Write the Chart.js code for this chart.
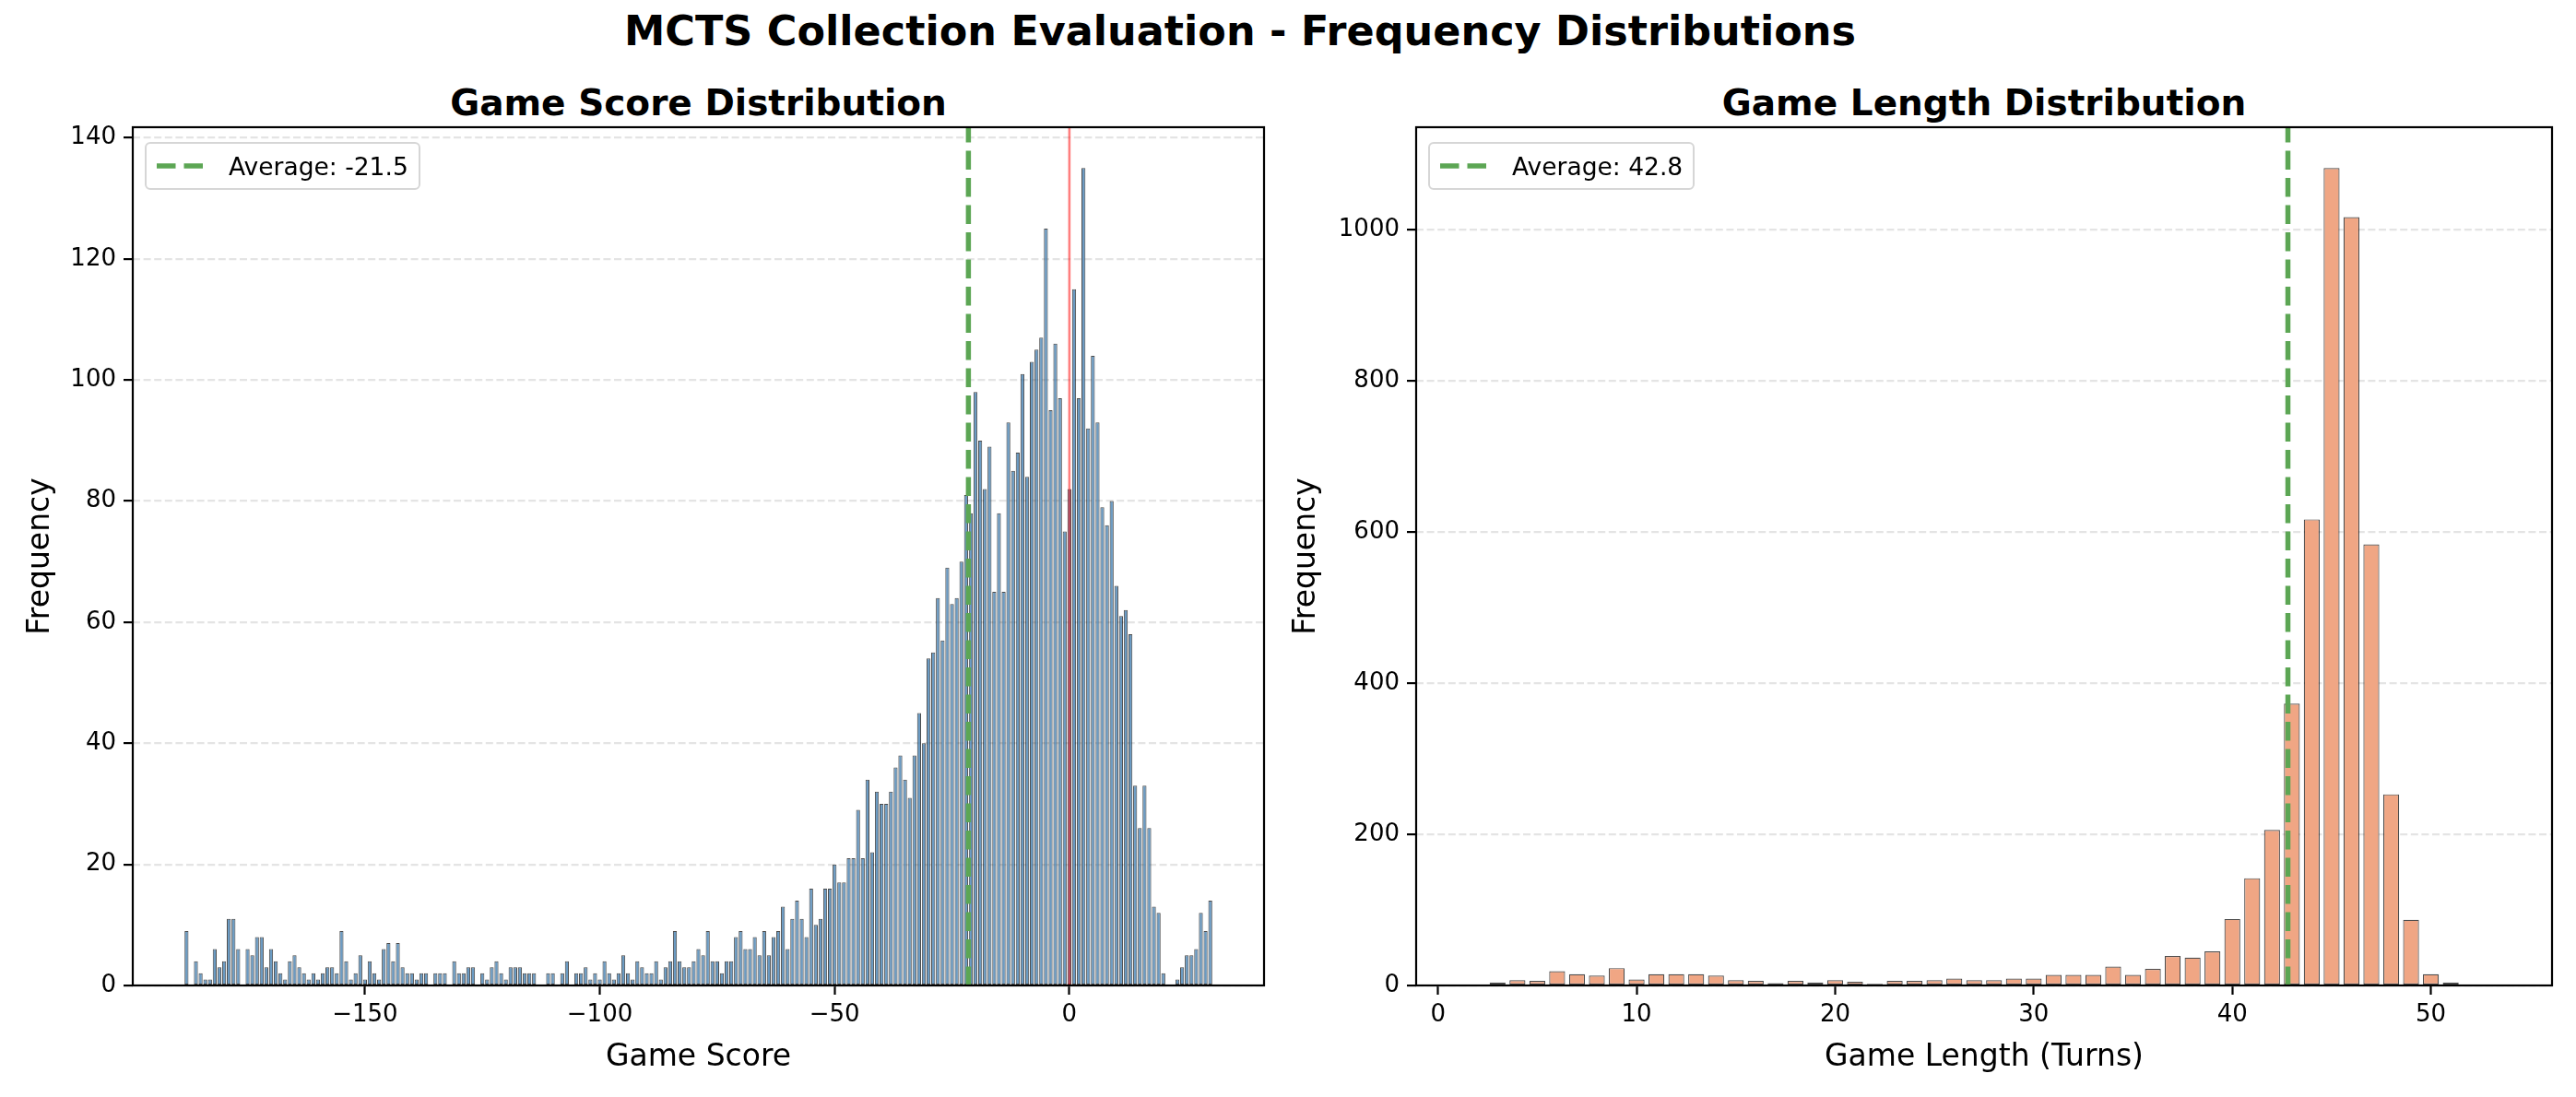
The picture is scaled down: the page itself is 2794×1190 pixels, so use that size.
<!DOCTYPE html>
<html>
<head>
<meta charset="utf-8">
<title>MCTS Collection Evaluation - Frequency Distributions</title>
<script src="https://cdn.jsdelivr.net/npm/chart.js@4.4.1/dist/chart.umd.min.js"></script>
<style>
  html, body { margin: 0; padding: 0; background: #fff; }
  body { width: 2794px; height: 1190px; position: relative; overflow: hidden; font-family: 'DejaVu Sans', sans-serif; }
  canvas { position: absolute; top: 0; }
  .ttl { position: absolute; text-align: center; font-weight: bold; color: #000; white-space: nowrap; }
  .lg { position: absolute; box-sizing: border-box; height: 52px; padding: 0 11px; display: flex; align-items: center;
        background: rgba(255,255,255,0.8); border: 2px solid #d6d6d6; border-radius: 6px; font-size: 26.5px; color: #000; white-space: nowrap; }
  .lg svg { margin-right: 22px; flex: none; }
</style>
</head>
<body>
<div class="ttl" style="left:0;width:2690px;top:9px;font-size:44.5px;line-height:50px">MCTS Collection Evaluation - Frequency Distributions</div>
<div class="ttl" style="left:144px;width:1227px;top:87px;font-size:39px;line-height:50px">Game Score Distribution</div>
<div class="ttl" style="left:1536px;width:1232px;top:87px;font-size:39px;line-height:50px">Game Length Distribution</div>
<canvas id="score_chart" width="1400" height="1190" style="left:0"></canvas>
<canvas id="length_chart" width="1414" height="1190" style="left:1380px"></canvas>
<script>
// ── Game score histogram (1-point bins, first bin centred on -188) ──
const scoreBinStart = -188;
const scoreCounts = [
    9, 0, 4, 2, 1, 1, 6, 3, 4, 11,
    11, 6, 0, 6, 5, 8, 8, 3, 6, 4,
    2, 1, 4, 5, 3, 2, 1, 2, 1, 2,
    3, 3, 2, 9, 4, 1, 2, 5, 1, 4,
    2, 1, 6, 7, 4, 7, 3, 2, 2, 1,
    2, 2, 0, 2, 2, 2, 0, 4, 2, 2,
    3, 3, 0, 2, 1, 3, 4, 2, 1, 3,
    3, 3, 2, 2, 2, 0, 0, 2, 2, 0,
    2, 4, 0, 2, 2, 3, 1, 2, 1, 4,
    2, 1, 2, 5, 2, 1, 4, 3, 2, 2,
    4, 1, 3, 4, 9, 4, 3, 3, 4, 6,
    5, 9, 4, 4, 2, 4, 4, 8, 9, 6,
    6, 8, 5, 9, 5, 8, 9, 13, 6, 11,
    14, 11, 8, 16, 10, 11, 16, 16, 20, 17,
    17, 21, 21, 29, 21, 34, 22, 32, 30, 30,
    32, 36, 38, 34, 31, 38, 45, 40, 54, 55,
    64, 57, 69, 63, 64, 70, 81, 78, 98, 90,
    82, 89, 65, 78, 65, 93, 85, 88, 101, 84,
    103, 105, 107, 125, 95, 106, 97, 75, 82, 115,
    97, 135, 92, 104, 93, 79, 76, 80, 66, 61,
    62, 58, 33, 26, 33, 26, 13, 12, 2, 0,
    0, 1, 3, 5, 5, 6, 12, 9, 14
];
const scoreXTicks = [-150, -100, -50, 0];
const scoreYTicks = [0, 20, 40, 60, 80, 100, 120, 140];
const scoreAvg = -21.5;
const scoreXRange = [-199.45, 41.45];

// ── Game length histogram ──
const lengthBins = [
    2, 3, 4, 5, 6, 7, 8, 9, 10, 11, 12, 13, 14, 15, 16, 17, 18, 19, 20, 21,
    22, 23, 24, 25, 26, 27, 28, 29, 30, 31, 32, 33, 34, 35, 36, 37, 38, 39, 40, 41,
    42, 43, 44, 45, 46, 47, 48, 49, 50, 51
];
const lengthCounts = [
    1, 4, 7, 6, 19, 15, 13, 23, 8, 15, 15, 15, 13, 7, 6, 3, 6, 4, 7, 5,
    2, 6, 6, 7, 9, 7, 7, 9, 9, 14, 14, 14, 25, 14, 22, 39, 37, 45, 88, 142,
    206, 373, 617, 1082, 1017, 584, 253, 87, 15, 4
];
const lengthXTicks = [0, 10, 20, 30, 40, 50];
const lengthYTicks = [0, 200, 400, 600, 800, 1000];
const lengthAvg = 42.8;
const lengthXRange = [-1.1, 56.1];

const FONT = 'DejaVu Sans';
const AVG_COLOR = 'rgb(92,166,84)';
const AVG_DASH = [20.5, 9];
const GRID_COLOR = '#e4e4e4';

Chart.defaults.font.family = FONT;
Chart.defaults.color = '#000';

// minus sign like matplotlib
const fmtTick = v => v < 0 ? '\u2212' + Math.abs(v) : String(v);

// all four spines, drawn over the bars
const framePlugin = {
    id: 'mplFrame',
    afterDraw(chart) {
        const { ctx, chartArea: a } = chart;
        ctx.save();
        ctx.setLineDash([]);
        ctx.lineWidth = 2.2;
        ctx.strokeStyle = '#000';
        ctx.strokeRect(a.left, a.top, a.right - a.left, a.bottom - a.top);
        ctx.restore();
    }
};

// legend box in the upper-left corner of the plot area
function addLegend(chart, canvasLeft, text) {
    const a = chart.chartArea;
    const el = document.createElement('div');
    el.className = 'lg';
    el.style.left = (canvasLeft + a.left + 13) + 'px';
    el.style.top = (a.top + 16) + 'px';
    el.innerHTML = '<svg width="56" height="12"><line x1="0" y1="6" x2="56" y2="6" stroke="' + AVG_COLOR +
        '" stroke-width="5.5" stroke-dasharray="' + AVG_DASH.join(' ') + '"/></svg><span></span>';
    el.querySelector('span').textContent = text;
    document.body.appendChild(el);
}

function makeHistogram(canvasId, cfg) {
    const yMax = Math.max(...cfg.counts) * 1.05;
    const bars = cfg.counts.map((c, i) => ({ x: cfg.centers[i], y: c }));

    const datasets = [{
        type: 'bar',
        label: 'hist',
        data: bars,
        backgroundColor: cfg.fill,
        borderColor: 'rgba(0,0,0,0.7)',
        borderWidth: cfg.edge,
        borderSkipped: false,
        barPercentage: cfg.barPct,
        categoryPercentage: 1.0,
        order: 2
    }, {
        type: 'line',
        label: 'Average: ' + cfg.avg.toFixed(1),
        data: [{ x: cfg.avg, y: 0 }, { x: cfg.avg, y: yMax }],
        borderColor: AVG_COLOR,
        borderWidth: 5.5,
        borderDash: AVG_DASH,
        pointRadius: 0,
        order: 0
    }];
    if (cfg.zeroLine) {
        datasets.push({
            type: 'line',
            label: 'zero',
            data: [{ x: 0, y: 0 }, { x: 0, y: yMax }],
            borderColor: 'rgba(255,0,0,0.5)',
            borderWidth: 2.6,
            pointRadius: 0,
            order: 1
        });
    }

    const chart = new Chart(document.getElementById(canvasId), {
        type: 'bar',
        data: { datasets },
        plugins: [framePlugin],
        options: {
            responsive: false,
            animation: false,
            devicePixelRatio: 1,
            layout: { padding: { top: 138, left: 0, right: cfg.padRight, bottom: 0 } },
            plugins: {
                tooltip: { enabled: false },
                legend: { display: false }
            },
            scales: {
                x: {
                    type: 'linear',
                    offset: false,
                    min: cfg.xRange[0],
                    max: cfg.xRange[1],
                    afterBuildTicks: s => { s.ticks = cfg.xTicks.map(v => ({ value: v })); },
                    afterFit: s => { s.height = 121; },
                    grid: { offset: false, drawOnChartArea: false, drawTicks: true, tickLength: 10, tickColor: '#000', tickWidth: 2.2 },
                    border: { display: false },
                    ticks: { padding: 7, color: '#000', font: { size: 26 }, maxRotation: 0, callback: v => fmtTick(v) },
                    title: { display: true, text: cfg.xTitle, color: '#000', font: { size: 33 }, padding: { top: 0, bottom: 23 } }
                },
                y: {
                    type: 'linear',
                    min: 0,
                    max: yMax,
                    afterBuildTicks: s => { s.ticks = cfg.yTicks.map(v => ({ value: v })); },
                    afterFit: s => { s.width = cfg.yAxisWidth; },
                    grid: { color: GRID_COLOR, lineWidth: 2.2, drawTicks: true, tickLength: 10, tickColor: '#000', tickWidth: 2.2 },
                    border: { display: false, dash: [8, 3.6] },
                    ticks: { padding: 8, color: '#000', font: { size: 26 }, callback: v => fmtTick(v) },
                    title: { display: true, text: 'Frequency', color: '#000', font: { size: 33 }, padding: { top: cfg.yTitlePad, bottom: 0 } }
                }
            }
        }
    });
    addLegend(chart, cfg.canvasLeft, 'Average: ' + cfg.avg.toFixed(1));
    return chart;
}

makeHistogram('score_chart', {
    centers: scoreCounts.map((_, i) => scoreBinStart + i),
    counts: scoreCounts,
    fill: 'rgba(70,130,180,0.8)',
    edge: 1,
    barPct: 0.84,
    avg: scoreAvg,
    zeroLine: true,
    xRange: scoreXRange,
    xTicks: scoreXTicks,
    yTicks: scoreYTicks,
    xTitle: 'Game Score',
    yAxisWidth: 144,
    yTitlePad: 25,
    padRight: 29,
    canvasLeft: 0
});

makeHistogram('length_chart', {
    centers: lengthBins,
    counts: lengthCounts,
    fill: 'rgb(240,166,132)',
    edge: 1.2,
    barPct: 0.8,
    avg: lengthAvg,
    zeroLine: false,
    xRange: lengthXRange,
    xTicks: lengthXTicks,
    yTicks: lengthYTicks,
    xTitle: 'Game Length (Turns)',
    yAxisWidth: 156,
    yTitlePad: 18,
    padRight: 26,
    canvasLeft: 1380
});
</script>
</body>
</html>
